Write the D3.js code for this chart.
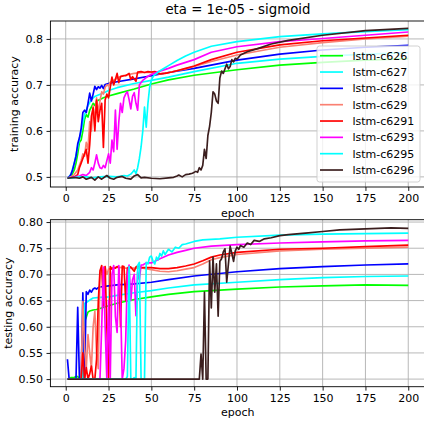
<!DOCTYPE html>
<html>
<head>
<meta charset="utf-8">
<script src="https://cdn.jsdelivr.net/npm/d3@7"></script>
<style>
  body { margin: 0; background: #fff; }
  text { font-family: "DejaVu Sans", sans-serif; fill: #000; }
</style>
</head>
<body>
<div id="visualization"></div>
<script>
// Series names and line colours (legend order)
const seriesNames = ["lstm-c626", "lstm-c627", "lstm-c628", "lstm-c629", "lstm-c6291", "lstm-c6293", "lstm-c6295", "lstm-c6296"];
const seriesColors = ["#00ff00", "#00ffff", "#0000ff", "#fa8072", "#ff0000", "#ff00ff", "#00ffff", "#3b1e1e"];

// Tick values
const epochTicks = [0, 25, 50, 75, 100, 125, 150, 175, 200];
const trainTicks = [0.5, 0.6, 0.7, 0.8];
const testTicks = [0.50, 0.55, 0.60, 0.65, 0.70, 0.75, 0.80];

// Training accuracy, [epoch, value]
const trainC626 = [[1,.497],[3,.500],[5,.515],[6,.53],[7,.55],[8,.575],[9,.58],[10,.60],[11,.625],[12,.635],[13,.63],[14,.645],[15,.652],[16,.66],[17,.655],[18,.665],[20,.668],[22,.672],[25,.676],[30,.681],[40,.691],[50,.702],[60,.711],[75,.721],[100,.733],[125,.743],[150,.749],[175,.754],[200,.757]];
const trainC627 = [[1,.497],[3,.505],[5,.53],[7,.565],[9,.60],[11,.635],[13,.655],[15,.668],[17,.675],[19,.678],[21,.681],[23,.684],[25,.688],[30,.694],[40,.703],[50,.710],[60,.717],[75,.729],[100,.747],[125,.756],[150,.762],[175,.767],[200,.770]];
const trainC628 = [[1,.497],[2,.500],[3,.505],[4,.515],[5,.53],[6,.545],[7,.572],[8,.585],[9,.605],[10,.64],[11,.645],[12,.64],[13,.66],[14,.682],[15,.665],[16,.68],[17,.697],[18,.69],[19,.696],[20,.693],[21,.699],[22,.692],[23,.701],[25,.703],[27,.705],[30,.707],[40,.713],[50,.720],[60,.727],[75,.736],[100,.754],[125,.767],[150,.776],[175,.782],[200,.786]];
const trainC629 = [[1,.497],[3,.500],[5,.505],[7,.515],[8,.525],[9,.535],[10,.55],[11,.545],[12,.575],[13,.56],[14,.62],[15,.60],[16,.655],[17,.62],[18,.672],[19,.64],[20,.665],[21,.685],[22,.68],[23,.695],[24,.70],[25,.698],[26,.706],[28,.71],[30,.715],[33,.72],[36,.722],[40,.725],[45,.727],[50,.727],[55,.724],[60,.727],[70,.735],[75,.740],[85,.751],[100,.765],[125,.782],[150,.792],[175,.800],[200,.806]];
const trainC6291 = [[1,.497],[3,.498],[5,.500],[7,.505],[8,.52],[9,.53],[10,.54],[11,.55],[12,.56],[13,.53],[14,.57],[15,.632],[16,.65],[17,.60],[18,.667],[19,.62],[20,.645],[21,.66],[22,.564],[23,.667],[24,.68],[25,.672],[26,.695],[27,.717],[28,.70],[29,.712],[30,.725],[31,.705],[32,.718],[34,.72],[35,.72],[37,.725],[38,.712],[39,.718],[41,.708],[42,.728],[44,.729],[46,.727],[48,.729],[50,.728],[52,.729],[55,.724],[58,.725],[62,.728],[66,.732],[70,.736],[75,.741],[85,.755],[100,.771],[125,.787],[150,.796],[175,.802],[200,.808]];
const trainC6293 = [[1,.497],[3,.498],[5,.50],[8,.502],[10,.505],[12,.503],[14,.51],[15,.52],[16,.515],[17,.53],[18,.548],[19,.53],[20,.52],[21,.518],[22,.525],[23,.52],[24,.535],[25,.55],[26,.53],[27,.58],[28,.555],[29,.645],[30,.56],[31,.62],[32,.66],[33,.64],[34,.672],[35,.68],[36,.685],[37,.668],[38,.648],[39,.675],[40,.683],[41,.66],[42,.645],[43,.70],[44,.705],[45,.71],[47,.716],[49,.721],[52,.726],[55,.73],[60,.736],[65,.743],[70,.749],[75,.755],[85,.771],[100,.783],[125,.794],[150,.801],[175,.808],[200,.815]];
const trainC6295 = [[1,.497],[4,.498],[8,.50],[12,.50],[16,.498],[20,.50],[25,.501],[30,.50],[34,.503],[36,.502],[38,.506],[39,.51],[40,.515],[41,.507],[42,.52],[43,.54],[44,.565],[45,.60],[46,.652],[47,.608],[48,.66],[49,.695],[50,.71],[51,.718],[52,.722],[54,.728],[56,.733],[60,.742],[65,.753],[70,.763],[75,.771],[85,.784],[100,.794],[125,.805],[150,.811],[175,.816],[200,.820]];
const trainC6296 = [[1,.497],[5,.499],[8,.497],[10,.50],[12,.495],[15,.499],[17,.493],[19,.50],[21,.495],[24,.503],[26,.497],[28,.495],[30,.499],[33,.501],[35,.497],[38,.495],[40,.502],[42,.505],[44,.498],[46,.499],[50,.497],[55,.496],[60,.498],[63,.499],[65,.502],[66,.504],[68,.50],[70,.505],[72,.506],[74,.508],[76,.512],[77,.51],[78,.52],[79,.515],[80,.525],[81,.56],[82,.54],[83,.59],[84,.61],[85,.64],[86,.685],[87,.68],[88,.665],[89,.66],[90,.715],[91,.73],[92,.725],[93,.735],[94,.745],[95,.735],[96,.74],[97,.755],[98,.75],[99,.758],[100,.756],[102,.765],[106,.772],[112,.779],[120,.789],[130,.797],[150,.808],[175,.818],[200,.823]];

// Testing accuracy, [epoch, value]
const testC626 = [[1,.50],[2,.50],[3,.503],[5,.503],[6,.505],[7,.505],[8,.50],[10,.50],[11,.61],[12,.618],[13,.628],[14,.63],[16,.632],[18,.633],[20,.635],[25,.640],[30,.645],[40,.652],[50,.657],[60,.662],[75,.667],[100,.672],[125,.676],[150,.678],[175,.680],[200,.679]];
const testC627 = [[1,.50],[5,.50],[10,.50],[11,.645],[12,.646],[14,.651],[16,.655],[20,.656],[25,.657],[30,.66],[40,.665],[50,.669],[60,.674],[75,.680],[100,.685],[125,.690],[150,.694],[175,.696],[200,.697]];
const testC628 = [[1,.538],[2,.50],[4,.50],[6,.50],[7,.637],[8,.50],[9,.50],[10,.665],[11,.50],[12,.667],[13,.662],[14,.67],[15,.666],[16,.672],[17,.674],[18,.672],[19,.675],[20,.676],[25,.678],[30,.680],[40,.682],[50,.685],[60,.690],[75,.697],[100,.705],[125,.711],[150,.715],[175,.718],[200,.720]];
const testC629 = [[1,.50],[8,.50],[9,.50],[10,.648],[11,.56],[12,.52],[13,.585],[14,.55],[15,.52],[16,.60],[17,.63],[18,.55],[19,.52],[20,.70],[21,.71],[22,.70],[23,.715],[24,.70],[25,.71],[27,.712],[30,.714],[35,.712],[40,.712],[45,.712],[50,.709],[55,.706],[60,.705],[65,.707],[70,.71],[75,.713],[80,.72],[85,.728],[90,.732],[100,.738],[125,.745],[150,.748],[175,.750],[200,.752]];
const testC6291 = [[1,.50],[9,.50],[10,.55],[11,.50],[12,.522],[13,.50],[14,.51],[15,.525],[16,.50],[17,.50],[18,.538],[19,.647],[20,.707],[21,.717],[22,.64],[23,.715],[24,.60],[25,.50],[26,.715],[27,.71],[28,.713],[29,.712],[30,.715],[31,.713],[32,.60],[33,.716],[34,.715],[35,.65],[36,.712],[37,.715],[38,.714],[39,.71],[40,.706],[41,.714],[42,.716],[44,.713],[46,.713],[50,.713],[55,.711],[60,.711],[65,.713],[70,.716],[75,.720],[80,.726],[85,.733],[90,.737],[100,.742],[125,.748],[150,.750],[175,.753],[200,.756]];
const testC6293 = [[1,.50],[19,.50],[20,.50],[21,.60],[22,.714],[23,.60],[24,.50],[25,.65],[26,.50],[27,.70],[28,.717],[29,.62],[30,.589],[31,.717],[32,.65],[33,.50],[34,.52],[35,.573],[36,.70],[37,.718],[38,.65],[39,.69],[40,.70],[41,.621],[42,.705],[43,.69],[44,.718],[45,.718],[47,.722],[50,.722],[55,.73],[60,.737],[65,.742],[70,.746],[75,.75],[85,.754],[100,.757],[125,.760],[150,.762],[175,.764],[200,.765]];
const testC6295 = [[1,.50],[20,.50],[30,.50],[35,.50],[36,.505],[37,.715],[38,.50],[39,.50],[40,.503],[41,.50],[42,.717],[43,.723],[44,.50],[45,.50],[46,.50],[47,.723],[48,.72],[49,.733],[50,.735],[51,.725],[52,.72],[53,.733],[54,.728],[55,.74],[56,.735],[57,.745],[58,.738],[60,.748],[62,.743],[64,.752],[66,.75],[68,.757],[70,.758],[75,.763],[80,.766],[90,.768],[100,.771],[125,.775],[150,.777],[175,.778],[200,.779]];
const testC6296 = [[1,.50],[20,.50],[40,.50],[60,.50],[78,.50],[79,.548],[80,.50],[81,.666],[82,.50],[83,.50],[84,.726],[85,.636],[86,.733],[87,.666],[88,.72],[89,.62],[90,.725],[91,.73],[92,.743],[93,.749],[94,.685],[95,.72],[96,.754],[97,.74],[98,.725],[99,.745],[100,.752],[101,.748],[102,.755],[104,.752],[106,.76],[108,.757],[110,.765],[113,.763],[116,.768],[120,.77],[125,.774],[130,.776],[140,.779],[150,.782],[160,.785],[175,.787],[190,.789],[200,.788]];

const trainSeries = [trainC626, trainC627, trainC628, trainC629, trainC6291, trainC6293, trainC6295, trainC6296];
const testSeries = [testC626, testC627, testC628, testC629, testC6291, testC6293, testC6295, testC6296];

// Sets dimensions and creates elements
const width = 424;
const height = 423;

const svg = d3.select("#visualization")
    .append("svg")
    .attr("width", width)
    .attr("height", height);

// Shared x scale (matplotlib-like 5% margins on 1..200)
const x = d3.scaleLinear().domain([-8.95, 209.95]).range([50.4, 425.3]);

const panels = [
    { series: trainSeries, domain: [0.478, 0.839], range: [187, 21], ticks: trainTicks, fmt: d3.format(".1f"), label: "training accuracy", labelX: 18, id: "top" },
    { series: testSeries, domain: [0.4855, 0.8045], range: [386.7, 219.7], ticks: testTicks, fmt: d3.format(".2f"), label: "testing accuracy", labelX: 11.5, id: "bot" }
];

panels.forEach(p => {
    const y = d3.scaleLinear().domain(p.domain).range(p.range);
    const g = svg.append("g");
    const top = p.range[1], bottom = p.range[0];
    const left = x.range()[0], right = x.range()[1];

    g.append("rect")
        .attr("x", left).attr("y", top)
        .attr("width", right - left).attr("height", bottom - top)
        .attr("fill", "#fff");

    // grid
    g.append("g").selectAll("line")
        .data(epochTicks).enter().append("line")
        .attr("x1", d => x(d)).attr("x2", d => x(d))
        .attr("y1", top).attr("y2", bottom)
        .attr("stroke", "#b0b0b0").attr("stroke-width", 0.9);
    g.append("g").selectAll("line")
        .data(p.ticks).enter().append("line")
        .attr("x1", left).attr("x2", right)
        .attr("y1", d => y(d)).attr("y2", d => y(d))
        .attr("stroke", "#b0b0b0").attr("stroke-width", 0.9);

    // clip
    svg.append("clipPath").attr("id", "clip-" + p.id)
        .append("rect")
        .attr("x", left).attr("y", top)
        .attr("width", right - left).attr("height", bottom - top);

    const line = d3.line()
        .x(d => x(d[0]))
        .y(d => y(d[1]));

    g.append("g").attr("clip-path", `url(#clip-${p.id})`)
        .selectAll("path")
        .data(p.series).enter().append("path")
        .attr("fill", "none")
        .attr("stroke", (d, i) => seriesColors[i])
        .attr("stroke-width", 1.67)
        .attr("stroke-linejoin", "round")
        .attr("d", line);

    // axes
    const xAxis = d3.axisBottom(x).tickValues(epochTicks).tickSize(3.9).tickPadding(3.5).tickSizeOuter(0);
    const yAxis = d3.axisLeft(y).tickValues(p.ticks).tickFormat(p.fmt).tickSize(3.9).tickPadding(3.5).tickSizeOuter(0);

    const gx = g.append("g")
        .attr("transform", `translate(0, ${bottom})`)
        .call(xAxis);
    const gy = g.append("g")
        .attr("transform", `translate(${left}, 0)`)
        .call(yAxis);
    [gx, gy].forEach(a => {
        a.select(".domain").remove();
        a.selectAll(".tick line").attr("stroke", "#000").attr("stroke-width", 0.9);
        a.selectAll(".tick text").attr("font-size", 11).attr("font-family", "DejaVu Sans");
    });

    // frame
    g.append("rect")
        .attr("x", left).attr("y", top)
        .attr("width", right - left).attr("height", bottom - top)
        .attr("fill", "none").attr("stroke", "#000").attr("stroke-width", 0.9);

    // y label
    g.append("text")
        .attr("transform", `translate(${p.labelX}, ${(top + bottom) / 2}) rotate(-90)`)
        .attr("text-anchor", "middle")
        .attr("font-size", 11)
        .text(p.label);

    // x label
    g.append("text")
        .attr("x", (left + right) / 2)
        .attr("y", bottom + 29.5)
        .attr("text-anchor", "middle")
        .attr("font-size", 11)
        .text("epoch");
});

// Title
svg.append("text")
    .attr("x", 237.9)
    .attr("y", 14)
    .attr("text-anchor", "middle")
    .attr("font-size", 13.3)
    .text("eta = 1e-05 - sigmoid");

// Legend
const legend = svg.append("g");
legend.append("rect")
    .attr("x", 317).attr("y", 46)
    .attr("width", 103).attr("height", 136)
    .attr("rx", 2.5)
    .attr("fill", "#fff").attr("fill-opacity", 0.8)
    .attr("stroke", "#cccccc").attr("stroke-width", 0.9);

const items = legend.selectAll("g.item")
    .data(seriesNames).enter().append("g")
    .attr("class", "item")
    .attr("transform", (d, i) => `translate(0, ${55.7 + i * 16.33})`);
items.append("line")
    .attr("x1", 320).attr("x2", 343)
    .attr("stroke", (d, i) => seriesColors[i])
    .attr("stroke-width", 1.67);
items.append("text")
    .attr("x", 352.5).attr("y", 4)
    .attr("font-size", 11)
    .text(d => d);
</script>
</body>
</html>
